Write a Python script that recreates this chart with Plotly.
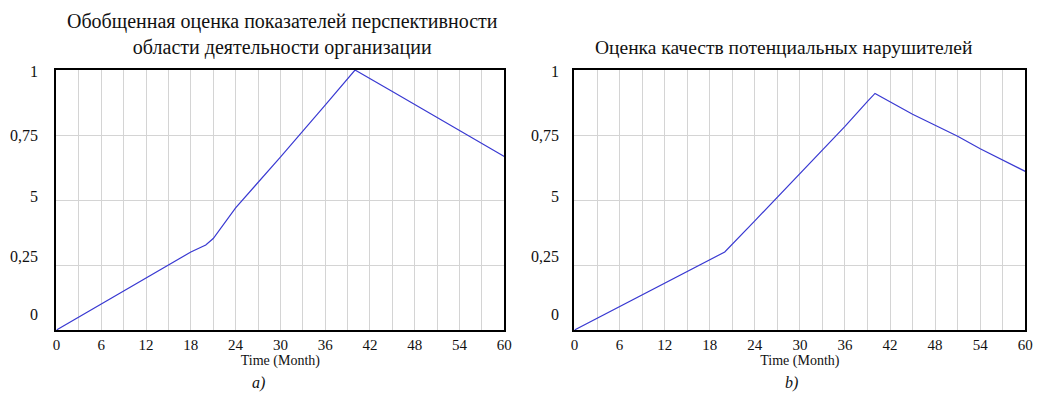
import plotly.graph_objects as go

# ---- data ----
months_a = [0, 6, 12, 18, 20, 21, 24, 30, 36, 40, 45, 48, 54, 60]
values_a = [0, 0.10, 0.20, 0.30, 0.327, 0.352, 0.47, 0.665, 0.865, 1.0, 0.917, 0.867, 0.767, 0.667]

months_b = [0, 6, 12, 18, 20, 24, 27, 30, 33, 36, 39, 40, 45, 48, 51, 54, 57, 60]
values_b = [0, 0.09, 0.18, 0.27, 0.30, 0.42, 0.51, 0.604, 0.693, 0.783, 0.879, 0.91, 0.83, 0.789, 0.745, 0.697, 0.655, 0.61]

title_a = "Обобщенная оценка показателей перспективности<br>области деятельности организации"
title_b = "Оценка качеств потенциальных нарушителей"
x_title = "Time (Month)"
captions = ["a)", "b)"]
y_tick_labels = ["1", "0,75", "5", "0,25", "0"]
y_grid_vals = [0, 0.25, 0.5, 0.75, 1]

# ---- layout helpers ----
OFF = 8  # page body margin
W, H = 1057 - OFF, 399 - OFF
FONT = "Liberation Serif"
LINE = "#3a3ad2"

def px_x(p):
    return (p - OFF) / W

def px_y(p):
    return 1 - (p - OFF) / H

top, bottom = 70, 330
dom_a = [px_x(53), px_x(506)]
dom_b = [px_x(577), px_x(1033)]
ydom = [px_y(bottom), px_y(top)]

fig = go.Figure()
fig.add_trace(go.Scatter(x=months_a, y=values_a, mode="lines",
                         line=dict(color=LINE, width=1.2), xaxis="x", yaxis="y",
                         showlegend=False))
fig.add_trace(go.Scatter(x=months_b, y=values_b, mode="lines",
                         line=dict(color=LINE, width=1.2), xaxis="x2", yaxis="y2",
                         showlegend=False))

def xax(dom, anchor):
    return dict(domain=dom, anchor=anchor, range=[0, 60], dtick=6, tick0=0,
                showgrid=True, gridcolor="#d4d4d4", gridwidth=1,
                minor=dict(dtick=3, tick0=0, showgrid=True, gridcolor="#d4d4d4", gridwidth=1),
                showline=True, linecolor="black", linewidth=2, mirror=True,
                ticks="", zeroline=False, ticklabelstandoff=0,
                tickfont=dict(family=FONT, size=15, color="#111"),
                title=dict(text=x_title, font=dict(family=FONT, size=14, color="#111"), standoff=0))

def yax(dom, anchor):
    return dict(domain=dom, anchor=anchor, range=[0, 1], tickvals=y_grid_vals,
                showticklabels=False, showgrid=True, gridcolor="#d4d4d4", gridwidth=1,
                showline=True, linecolor="black", linewidth=2, mirror=True,
                ticks="", zeroline=False)

annotations = []
label_y = [0.996, 0.75, 0.512, 0.281, 0.058]
for yref, xpix in (("y", 36), ("y2", 563)):
    for txt, yv in zip(y_tick_labels, label_y):
        annotations.append(dict(text=txt, x=px_x(xpix), xref="paper", y=yv, yref=yref,
                                xanchor="right", yanchor="middle", showarrow=False,
                                font=dict(family=FONT, size=16, color="#111")))

annotations.append(dict(text=title_a, x=px_x(282), y=px_y(34), xref="paper", yref="paper",
                        showarrow=False, xanchor="center", yanchor="middle",
                        font=dict(family=FONT, size=20, color="#111")))
annotations.append(dict(text=title_b, x=px_x(788), y=px_y(47), xref="paper", yref="paper",
                        showarrow=False, xanchor="center", yanchor="middle",
                        font=dict(family=FONT, size=19.5, color="#111")))
annotations.append(dict(text="<i>" + captions[0] + "</i>", x=px_x(257), y=px_y(383),
                        xref="paper", yref="paper", showarrow=False,
                        xanchor="center", yanchor="middle",
                        font=dict(family=FONT, size=16, color="#111")))
annotations.append(dict(text="<i>" + captions[1] + "</i>", x=px_x(797), y=px_y(383),
                        xref="paper", yref="paper", showarrow=False,
                        xanchor="center", yanchor="middle",
                        font=dict(family=FONT, size=16, color="#111")))

fig.update_layout(
    width=W, height=H,
    margin=dict(l=0, r=0, t=0, b=0),
    paper_bgcolor="white", plot_bgcolor="white",
    font=dict(family=FONT),
    xaxis=xax(dom_a, "y"), yaxis=yax(ydom, "x"),
    xaxis2=xax(dom_b, "y2"), yaxis2=yax(ydom, "x2"),
    annotations=annotations,
    showlegend=False,
)

fig.write_html("out.html", config={"displayModeBar": False})
